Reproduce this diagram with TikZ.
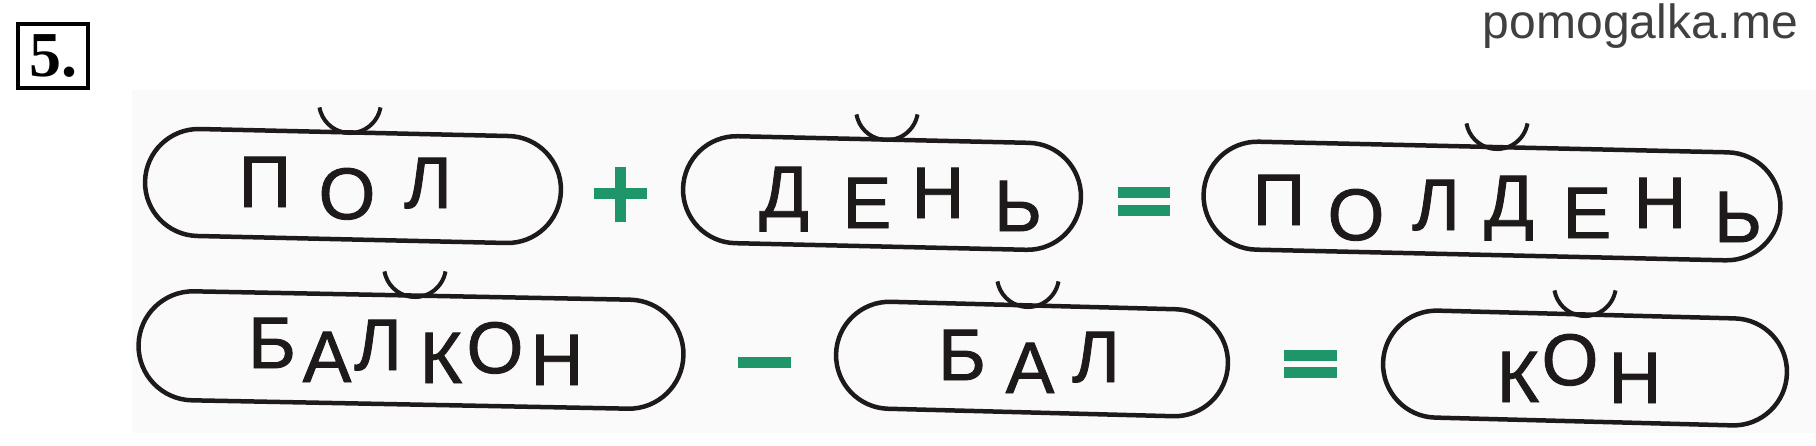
\documentclass[tikz,border=0pt]{standalone}
\usepackage{fontspec}
\setmainfont{Liberation Sans}
\newfontfamily\numfont{Liberation Serif}
\newfontfamily\wordfont[FakeBold=1.2]{Liberation Sans}
\usetikzlibrary{shapes.misc}
\definecolor{signgreen}{RGB}{30,150,105}
\definecolor{sitegray}{RGB}{64,64,64}
\definecolor{inkblack}{RGB}{30,26,26}
\begin{document}
\begin{tikzpicture}[x=1pt,y=-1pt,
  wordbox/.style={draw=inkblack, line width=4.5pt, rounded rectangle, inner sep=0pt, minimum height=107pt},
  letter/.style={anchor=base, inner sep=0pt, text=inkblack, font=\wordfont\fontsize{73}{73}\selectfont},
  brevestroke/.style={draw=inkblack, line width=4pt},
  sign/.style={fill=signgreen, draw=none}]
\useasboundingbox (0,0) rectangle (1816,445);
\fill[black!2] (132,90) rectangle (1816,433);
% task number
\node[draw=black, line width=4pt, minimum width=70pt, minimum height=64pt, inner sep=0pt,
      font=\numfont\bfseries\fontsize{64}{64}\selectfont] (num) at (53,56) {5.};
% site name
\node[anchor=base east, inner sep=0pt, text=sitegray, font=\fontsize{48}{48}\selectfont] (site) at (1798,38) {pomogalka.me};
% row 1 boxes
\node[wordbox, minimum width=416pt, rotate=-1.3] (b1) at (353,186) {};
\node[wordbox, minimum width=398pt, rotate=-1.3] (b2) at (882,193) {};
\node[wordbox, minimum width=577pt, minimum height=108pt, rotate=-1.3] (b3) at (1492,201) {};
% row 2 boxes
\node[wordbox, minimum width=545pt, minimum height=109pt, rotate=-1.1] (b4) at (411,350) {};
\node[wordbox, minimum width=392pt, rotate=-1.5] (b5) at (1032,359) {};
\node[wordbox, minimum width=404pt, rotate=-1.5] (b6) at (1585,368) {};
% breves
\draw[brevestroke] (350+30.5,133-25.6) arc[start angle=10, end angle=170, radius=31];
\draw[brevestroke] (887+30.5,140-25.6) arc[start angle=10, end angle=170, radius=31];
\draw[brevestroke] (1497+30.5,149-25.6) arc[start angle=10, end angle=170, radius=31];
\draw[brevestroke] (415+30.5,297-25.6) arc[start angle=10, end angle=170, radius=31];
\draw[brevestroke] (1028+30.5,307-25.6) arc[start angle=10, end angle=170, radius=31];
\draw[brevestroke] (1585+30.5,316-25.6) arc[start angle=10, end angle=170, radius=31];
% word 1: ПОЛ
\node[letter] (w1a) at (265,207) {П};
\node[letter] (w1b) at (347,219) {О};
\node[letter] (w1c) at (428,208) {Л};
% word 2: ДЕНЬ
\node[letter] (w2a) at (784,217) {Д};
\node[letter] (w2b) at (867,228) {Е};
\node[letter] (w2c) at (938,218) {Н};
\node[letter] (w2d) at (1018,231) {Ь};
% word 3: ПОЛДЕНЬ
\node[letter] (w3a) at (1279,225) {П};
\node[letter] (w3b) at (1356,240) {О};
\node[letter] (w3c) at (1436,230) {Л};
\node[letter] (w3d) at (1509,226) {Д};
\node[letter] (w3e) at (1587,238) {Е};
\node[letter] (w3f) at (1660,228) {Н};
\node[letter] (w3g) at (1738,242) {Ь};
% word 4: БАЛКОН
\node[letter] (w4a) at (272,368) {Б};
\node[letter] (w4b) at (327,382) {А};
\node[letter] (w4c) at (378,370) {Л};
\node[letter] (w4d) at (441,383) {К};
\node[letter] (w4e) at (495,373) {О};
\node[letter] (w4f) at (557,385) {Н};
% word 5: БАЛ
\node[letter] (w5a) at (962,380) {Б};
\node[letter] (w5b) at (1030,393) {А};
\node[letter] (w5c) at (1096,382) {Л};
% word 6: КОН
\node[letter] (w6a) at (1518,402) {К};
\node[letter] (w6b) at (1570,385) {О};
\node[letter] (w6c) at (1635,403) {Н};
% green signs
\fill[sign] (594,188) rectangle (647,199);
\fill[sign] (615,167) rectangle (626,222);
\fill[sign] (1118,187) rectangle (1170,198);
\fill[sign] (1118,205) rectangle (1170,216);
\fill[sign] (738,357) rectangle (791,368);
\fill[sign] (1284,350) rectangle (1337,361);
\fill[sign] (1284,367) rectangle (1337,378);
\end{tikzpicture}
\end{document}
